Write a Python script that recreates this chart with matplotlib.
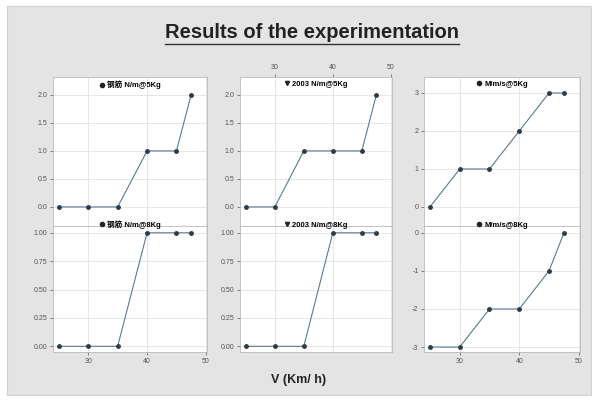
import matplotlib
matplotlib.use("Agg")
import matplotlib.pyplot as plt
from matplotlib.lines import Line2D
from matplotlib.patches import Rectangle

plt.rcParams["font.family"] = ["Liberation Sans", "Noto Sans CJK SC", "DejaVu Sans"]

# data
speed = [25, 30, 35, 40, 45, 47.5]
top_vals = [
    [0, 0, 0, 1, 1, 2],
    [0, 0, 1, 1, 1, 2],
    [0, 1, 1, 2, 3, 3],
]
bottom_vals = [
    [0, 0, 0, 1, 1, 1],
    [0, 0, 0, 1, 1, 1],
    [-3, -3, -2, -2, -1, 0],
]
top_labels = ["钢筋 N/m@5Kg", "2003 N/m@5Kg", "M/m/s@5Kg"]
bottom_labels = ["钢筋 N/m@8Kg", "2003 N/m@8Kg", "M/m/s@8Kg"]
markers = ["o", "v", "o"]
top_yticks = [[0, 0.5, 1.0, 1.5, 2.0], [0, 0.5, 1.0, 1.5, 2.0], [0, 1, 2, 3]]
top_ylims = [(-0.34, 2.32), (-0.34, 2.32), (-0.5, 3.42)]
bottom_yticks = [[0, 0.25, 0.5, 0.75, 1.0], [0, 0.25, 0.5, 0.75, 1.0], [-3, -2, -1, 0]]
bottom_ylims = [(-0.05, 1.06), (-0.05, 1.06), (-3.13, 0.18)]
xticks = [30, 40, 50]

W, H = 597, 401
fig = plt.figure(figsize=(W / 100, H / 100), dpi=100, facecolor="white")
fig.patches.append(Rectangle((7 / W, 6 / H), 584 / W, 389 / H, transform=fig.transFigure,
                             facecolor="#e4e4e4", edgecolor="#d0d0d0", lw=0.8, zorder=-10))

col_x = [(53, 207), (240, 392), (424, 580)]
top_y = (77, 226)
bot_y = (226, 352)

line_col = "#5a7896"
mark_col = "#2e3b48"


def box(x0, x1, y0, y1):
    return [x0 / W, 1 - y1 / H, (x1 - x0) / W, (y1 - y0) / H]


def style(ax):
    ax.set_facecolor("white")
    ax.grid(True, color="#e2e2e2", lw=0.6)
    ax.set_axisbelow(True)
    for s in ax.spines.values():
        s.set_color("#b8b8b8")
        s.set_linewidth(0.6)
    ax.tick_params(labelsize=5, colors="#555555", length=2, width=0.5, pad=2)
    ax.set_xlim(24, 50.2)
    ax.set_xticks(xticks)


legend_font = {"weight": "bold", "size": 5.5, "family": ["Liberation Sans", "Noto Sans CJK SC"]}

for i, (x0, x1) in enumerate(col_x):
    ax_t = fig.add_axes(box(x0, x1, *top_y))
    ax_b = fig.add_axes(box(x0, x1, *bot_y))
    for ax in (ax_t, ax_b):
        style(ax)

    ax_t.plot(speed, top_vals[i], color=line_col, lw=0.8, marker="o", ms=2.5,
              mfc=mark_col, mec=mark_col)
    ax_b.plot(speed, bottom_vals[i], color=line_col, lw=0.8, marker="o", ms=2.5,
              mfc=mark_col, mec=mark_col)
    ax_t.set_ylim(*top_ylims[i])
    ax_t.set_yticks(top_yticks[i])
    ax_b.set_ylim(*bottom_ylims[i])
    ax_b.set_yticks(bottom_yticks[i])
    if i == 2:
        ax_t.set_yticklabels([str(v) for v in top_yticks[i]])
        ax_b.set_yticklabels([str(v) for v in bottom_yticks[i]])
    else:
        ax_t.set_yticklabels([f"{v:.1f}" for v in top_yticks[i]])
        ax_b.set_yticklabels([f"{v:.2f}" for v in bottom_yticks[i]])

    ax_t.tick_params(axis="x", labelbottom=False, bottom=False)
    if i == 1:
        ax_t.tick_params(axis="x", labeltop=True, top=True)
        ax_b.tick_params(axis="x", labelbottom=False, bottom=False)

    h = Line2D([], [], ls="none", marker=markers[i], ms=3, color="#222222")
    ax_t.legend([h], [top_labels[i]], loc="upper center", frameon=False,
                handletextpad=0.2, borderaxespad=0.1, handlelength=0.8, prop=legend_font)
    ax_b.legend([h], [bottom_labels[i]], loc="lower center", bbox_to_anchor=(0.5, 0.97),
                frameon=False, handletextpad=0.2, borderaxespad=0.0, handlelength=0.8,
                borderpad=0.1, prop=legend_font)

title = fig.text(0.523, 1 - 33 / H, "Results of the experimentation", ha="center", va="center",
                 fontsize=14.5, fontweight="bold", color="#222222")
fig.canvas.draw()
bb = title.get_window_extent(fig.canvas.get_renderer())
fig.add_artist(Line2D([bb.x0 / W, bb.x1 / W], [(bb.y0 - 1) / H, (bb.y0 - 1) / H],
                      transform=fig.transFigure, color="#333333", lw=1.0))

fig.text(0.5, 1 - 380 / H, "V (Km/ h)", ha="center", va="center", fontsize=9,
         fontweight="bold", color="#222222")

fig.savefig("out.png", dpi=100, facecolor=fig.get_facecolor())
